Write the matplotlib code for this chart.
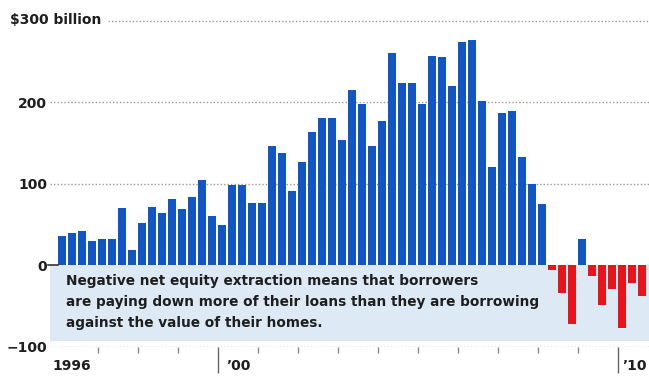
import numpy as np
import matplotlib
matplotlib.use("Agg")
import matplotlib.pyplot as plt

# quarterly net equity extraction, $ billion, 1996 Q1 .. 2010 Q3
values = [36, 39, 42, 29, 32, 32, 70, 18, 52, 71, 64, 81, 69, 83, 104, 60,
          49, 98, 98, 76, 76, 146, 138, 91, 127, 163, 180, 180, 154, 215, 198, 146,
          177, 260, 223, 223, 198, 257, 255, 220, 274, 276, 201, 120, 186, 189, 133, 100,
          75, -6, -34, -73, 32, -14, -49, -30, -77, -22, -38]
start_year = 1996
year_labels = {1996: "1996", 2000: "\u201900", 2010: "\u201910"}
y_ticks = [-100, 0, 100, 200]
note = ("Negative net equity extraction means that borrowers\n"
        "are paying down more of their loans than they are borrowing\n"
        "against the value of their homes.")

BLUE = "#1256c4"
RED = "#e8141c"
BOX = "#dde9f5"
GRID = "#9a9a9a"
TXT = "#1e1e1e"

x = start_year + np.arange(len(values)) / 4
vals = np.array(values)
colors = [BLUE if v >= 0 else RED for v in vals]

W, H = 649, 379
fig = plt.figure(figsize=(W / 100, H / 100), dpi=100)
ax = fig.add_axes([50 / W, 32.5 / H, 599 / W, 346.5 / H])
ax.set_xlim(1995.8075, 2010.7825)
ax.set_ylim(-100, 325.2)

# light blue note box below zero
ax.axhspan(-93, 0, color=BOX, zorder=0, lw=0)

# dotted gridlines
dot = dict(color=GRID, lw=1, ls=(0, (1, 1.5)), zorder=1)
for v in [200, 100, -100]:
    ax.axhline(v, **dot)
ax.axhline(300, xmin=0.097, **dot)

ax.bar(x, vals, width=0.2, align="edge", color=colors, lw=0, zorder=2)

# short dash at zero
ax.plot([-0.004, 0.014], [0, 0], color="#333333", lw=1.2,
        transform=ax.get_yaxis_transform(), clip_on=False, zorder=3)

for s in ax.spines.values():
    s.set_visible(False)

ax.set_yticks(y_ticks)
ax.set_yticklabels(["\u2212100", "0", "100", "200"])
ax.tick_params(axis="y", length=0, pad=2, labelsize=10, labelcolor=TXT)
for lab in ax.get_yticklabels():
    lab.set_fontweight("bold")
fig.text(10 / W, 1 - 20.5 / H, "$300 billion", ha="left", va="center",
         fontsize=10, fontweight="bold", color=TXT)

years = np.arange(1997, 2011)
ax.set_xticks([2000, 2010])
ax.set_xticks([y for y in years if y not in (2000, 2010)], minor=True)
ax.tick_params(axis="x", which="major", length=19, width=1, color="#666666",
               labelbottom=False, direction="out")
ax.tick_params(axis="x", which="minor", length=4.5, width=1, color="#888888",
               direction="out")

offsets = {1996: -0.12, 2000: 0.22, 2010: 0.12}
for yr, lab in year_labels.items():
    ax.text(yr + offsets[yr], -124, lab, ha="left", va="center", fontsize=10,
            fontweight="bold", color=TXT, clip_on=False)

ax.text(1996.21, -45.5, note, ha="left", va="center", fontsize=9.8,
        fontweight="bold", color=TXT, linespacing=1.66, zorder=4)

fig.savefig("out.png", dpi=100)
